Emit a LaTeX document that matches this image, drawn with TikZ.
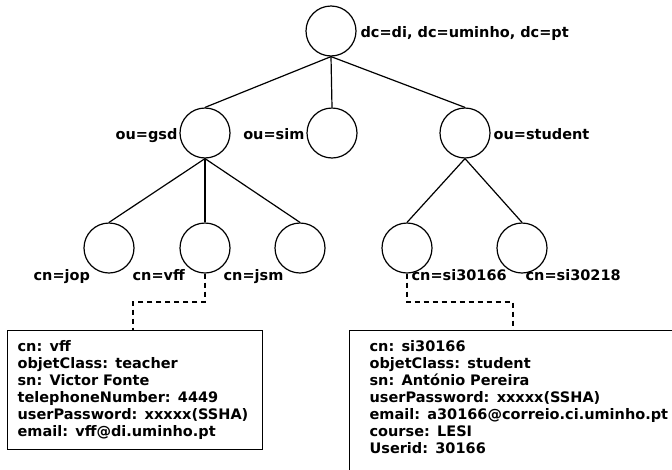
\documentclass[tikz,border=0pt]{standalone}
\usepackage{fontspec}
\setmainfont{DejaVu Sans}
\usepackage{tikz}

\tikzset{
  entry/.style={circle, draw, line width=1.2pt, minimum size=50pt, inner sep=0pt},
  rdn/.style={font=\bfseries\fontsize{14.5}{17}\selectfont, inner sep=0pt},
  attrbox/.style={draw, line width=1.2pt, align=left, inner ysep=10pt,
    font=\bfseries\fontsize{14.5}{17}\selectfont},
  dashline/.style={line width=1.2pt, dash pattern=on 5pt off 4pt}
}

\begin{document}
\begin{tikzpicture}[x=1pt, y=-1pt, line width=1.2pt]

        \useasboundingbox (0,0) rectangle (672,469);
        \clip (0,0) rectangle (672,469);

        % tree of entries
        \node[entry] (root) at (331,31) {};
        \node[entry] (gsd) at (205,133) {};
        \node[entry] (sim) at (332,133) {};
        \node[entry] (student) at (465,133) {};
        \node[entry] (jop) at (109,248) {};
        \node[entry] (vff) at (205,248) {};
        \node[entry] (jsm) at (300,248) {};
        \node[entry] (si30166) at (407,248) {};
        \node[entry] (si30218) at (522,248) {};

        \draw (root.south) -- (gsd.north);
        \draw (root.south) -- (sim.north);
        \draw (root.south) -- (student.north);
        \draw (gsd.south) -- (jop.north);
        \draw (gsd.south) -- (vff.north);
        \draw (gsd.south) -- (jsm.north);
        \draw (student.south) -- (si30166.north);
        \draw (student.south) -- (si30218.north);

        % names
        \node[rdn, anchor=base west] (rootname) at (360,37) {dc=di, dc=uminho, dc=pt};
        \node[rdn, anchor=base east] (gsdname) at (178,139) {ou=gsd};
        \node[rdn, anchor=base east] (simname) at (305,139) {ou=sim};
        \node[rdn, anchor=base west] (studentname) at (493,139) {ou=student};
        \node[rdn, anchor=base west] (jopname) at (33,280) {cn=jop};
        \node[rdn, anchor=base west] (vffname) at (132,280) {cn=vff};
        \node[rdn, anchor=base west] (jsmname) at (223,280) {cn=jsm};
        \node[rdn, anchor=base west] (si30166name) at (411,280) {cn=si30166};
        \node[rdn, anchor=base west] (si30218name) at (525,280) {cn=si30218};

        % attributes
        \node[attrbox, anchor=north west, inner xsep=10pt, text width=235pt] (vffbox) at (7,330)
            {cn: vff\\ objetClass: teacher\\ sn: Victor Fonte\\ telephoneNumber: 4449\\
             userPassword: xxxxx(SSHA)\\ email: vff@di.uminho.pt};
        \node[attrbox, anchor=north west, inner xsep=20pt, text width=380pt] (si30166box) at (349,330)
            {cn: si30166\\ objetClass: student\\ sn: António Pereira\\ userPassword: xxxxx(SSHA)\\
             email: a30166@correio.ci.uminho.pt\\ course: LESI\\ Userid: 30166\\ \mbox{}};

        \coordinate (vffbend) at (133,302);
        \coordinate (si30166bend) at (513,302);
        \draw[dashline] (vff.south) |- (vffbend) -- (vffbend |- vffbox.north);
        \draw[dashline] (si30166.south) |- (si30166bend) -- (si30166bend |- si30166box.north);

\end{tikzpicture}
\end{document}
